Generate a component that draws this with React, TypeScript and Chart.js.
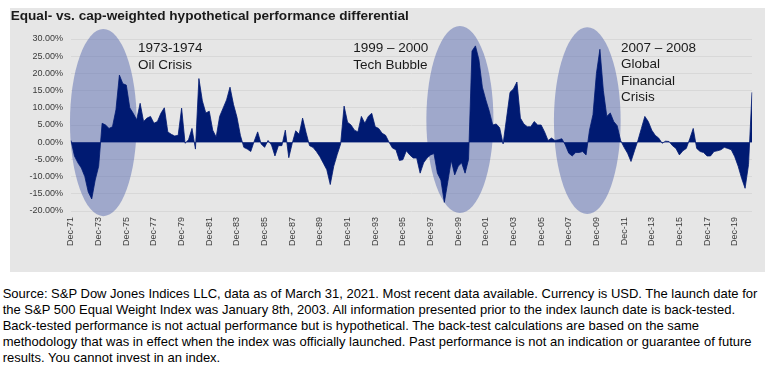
import React, { useEffect, useRef } from 'react';
import { Chart, registerables } from 'chart.js';

Chart.register(...registerables);

const FONT = '"Liberation Sans", Arial, Helvetica, sans-serif';

// Quarterly observations, first point Dec-71, last point Mar-21
const START_YEAR = 1971;
const QUARTER_MONTHS = ['Dec', 'Mar', 'Jun', 'Sep'];

// Equal- minus cap-weighted differential (%)
const diffDec71toSep81 = [
  0.5, -4, -6, -7.5, -10, -14.5, -16.5, -11, -7, 5.5,
  5, 4, 4.5, 9.4, 19.5, 17, 16.6, 10, 8.4, 6.5,
  11.3, 6, 7, 7.5, 5.5, 6, 8.4, 10, 3, 2.3,
  1.8, 2, 9.9, -0.3, 0.7, 4, -2, 18.5, 12, 8.5,
];
const diffDec81toSep91 = [
  9, 3.5, 1.5, 7.5, 9.9, 12.3, 16, 11, 7.3, 2,
  -1.5, -2, -2.7, 0.3, 3, -0.5, -1.5, 0.5, -0.8, -4,
  -1, -1, 3.5, -4.5, -0.3, 3.3, 2.3, 7, 2.8, -1,
  -1.5, -2.7, -4.2, -6.1, -8, -12.3, -7, -3.6, -0.5, 10.5,
];
const diffDec91toSep01 = [
  5.8, 5, 3.5, 3, 7.5, 5.5, 7.5, 8.4, 4.5, 4,
  2.6, 2, 0, -1.7, -2.2, -5.3, -5.1, -2.5, -3.7, -4.6,
  -4.6, -9, -6, -4.6, -3.7, -3.3, -9, -11, -17.5, -11.5,
  -5.3, -9.5, -7, -6, -9, -5, 26.5, 28, 24, 16,
];
const diffDec01toSep11 = [
  12.3, 9, 5, 5.3, 4.2, -0.5, 7, 14.5, 15.5, 17.5,
  7, 5.3, 4.5, 4.5, 6, 5, 5, 3, 0.5, 1.2,
  0.5, 0.7, 1, -0.8, -3.2, -4, -3, -3, -2.7, -3.7,
  3.5, 8, 20, 27, 15, 7.5, 8.5, 6, 4.8, 0.5,
];
const diffDec11toMar21 = [
  -1.5, -3.2, -5.6, -2.5, 0.5, 4, 7.5, 6, 3.5, 2,
  1.2, -0.3, 0.3, 0.2, -1, -1.8, -3.7, -2.5, -1.8, 1,
  4, -1.8, -2.7, -3, -4, -4, -2.7, -2.5, -2.2, -1.5,
  -1.8, -2.2, -4.2, -7, -10.5, -13.4, -6.5, 14.5,
];

const differential = [
  ...diffDec71toSep81,
  ...diffDec81toSep91,
  ...diffDec91toSep01,
  ...diffDec01toSep11,
  ...diffDec11toMar21,
];

const quarterLabels = differential.map((_, i) => {
  const mon = QUARTER_MONTHS[i % 4];
  const year = START_YEAR + Math.floor((11 + 3 * i) / 12);
  return `${mon}-${String(year % 100).padStart(2, '0')}`;
});

const X_TICK_LABELS = [
  'Dec-71', 'Dec-73', 'Dec-75', 'Dec-77', 'Dec-79', 'Dec-81', 'Dec-83', 'Dec-85',
  'Dec-87', 'Dec-89', 'Dec-91', 'Dec-93', 'Dec-95', 'Dec-97', 'Dec-99', 'Dec-01',
  'Dec-03', 'Dec-05', 'Dec-07', 'Dec-09', 'Dec-11', 'Dec-13', 'Dec-15', 'Dec-17', 'Dec-19',
];

const Y_MIN = -20;
const Y_MAX = 30;
const Y_STEP = 5;

// Highlight ellipses in data units: quarter index span and % span
const crisisFrom = [-0.3, 102.8, 139.7];
const crisisTo = [19.0, 122.2, 159.0];
const crisisTop = [32.9, 33.8, 33.4];
const crisisBottom = [-21.5, -20.6, -20.9];

const crisisTitles = ['1973-1974', '1999 \u2013 2000', '2007 \u2013 2008'];
const crisisNames = [['Oil Crisis'], ['Tech Bubble'], ['Global', 'Financial', 'Crisis']];

const SOURCE_LINES = [
  'Source: S&P Dow Jones Indices LLC, data as of March 31, 2021. Most recent data available. Currency is USD. The launch date for',
  'the S&P 500 Equal Weight Index was January 8th, 2003. All information presented prior to the index launch date is back-tested.',
  'Back-tested performance is not actual performance but is hypothetical. The back-test calculations are based on the same',
  'methodology that was in effect when the index was officially launched. Past performance is not an indication or guarantee of future',
  'results. You cannot invest in an index.',
];

const ellipsePlugin = {
  id: 'crisisEllipses',
  beforeDatasetsDraw(chart: any) {
    const { ctx, scales } = chart;
    const xs = scales.x;
    const ys = scales.y;
    ctx.save();
    ctx.fillStyle = 'rgba(88,106,176,0.5)';
    for (let i = 0; i < crisisFrom.length; i++) {
      const x1 = xs.getPixelForValue(crisisFrom[i]);
      const x2 = xs.getPixelForValue(crisisTo[i]);
      const y1 = ys.getPixelForValue(crisisTop[i]);
      const y2 = ys.getPixelForValue(crisisBottom[i]);
      ctx.beginPath();
      ctx.ellipse((x1 + x2) / 2, (y1 + y2) / 2, Math.abs(x2 - x1) / 2, Math.abs(y2 - y1) / 2, 0, 0, Math.PI * 2);
      ctx.fill();
    }
    ctx.restore();
  },
};

const annoPos = [
  { left: 138, top: 40.3 },
  { left: 353.3, top: 40.3 },
  { left: 621, top: 39.7 },
];

export default function App() {
  const canvasRef = useRef<HTMLCanvasElement | null>(null);

  useEffect(() => {
    const canvas = canvasRef.current;
    if (!canvas) return;
    const chart = new Chart(canvas, {
      type: 'line',
      data: {
        labels: quarterLabels,
        datasets: [
          {
            data: differential,
            fill: 'origin',
            backgroundColor: '#001A72',
            borderColor: '#001A72',
            borderWidth: 0.8,
            pointRadius: 0,
            pointHoverRadius: 0,
            tension: 0,
          },
        ],
      },
      options: {
        animation: false,
        responsive: false,
        devicePixelRatio: 1,
        events: [],
        layout: { padding: { top: 31, right: 13, left: 0, bottom: 0 } },
        plugins: {
          legend: { display: false },
          tooltip: { enabled: false },
          title: { display: false },
        },
        scales: {
          x: {
            type: 'category',
            offset: false,
            grid: { display: false, drawTicks: false },
            border: { display: false },
            afterFit: (s: any) => { s.height = 61; },
            ticks: {
              autoSkip: false,
              minRotation: 90,
              maxRotation: 90,
              padding: 6,
              color: '#3a3a3a',
              font: { family: FONT, size: 9 },
              callback: (_v: any, index: number) => {
                const lab = quarterLabels[index];
                return X_TICK_LABELS.includes(lab) ? lab : null;
              },
            },
          },
          y: {
            min: Y_MIN,
            max: Y_MAX,
            afterFit: (s: any) => { s.width = 61; },
            grid: {
              drawTicks: false,
              lineWidth: 1,
              color: (c: any) => (c.tick && c.tick.value === 0 ? '#B7BCD2' : '#D8D8D8'),
            },
            border: { display: false },
            ticks: {
              stepSize: Y_STEP,
              padding: 8,
              color: '#3a3a3a',
              font: { family: FONT, size: 9 },
              callback: (v: any) => `${Number(v).toFixed(2)}%`,
            },
          },
        },
      },
      plugins: [ellipsePlugin],
    });
    return () => chart.destroy();
  }, []);

  return (
    <div style={{ position: 'absolute', left: 0, top: 0, width: 772, height: 373, background: '#fff', fontFamily: FONT, overflow: 'hidden' }}>
      <div style={{ position: 'absolute', left: 10, top: 8, width: 755, height: 264, background: '#E6E6E6' }}>
        <canvas ref={canvasRef} width={755} height={264} style={{ display: 'block', width: 755, height: 264 }} />
      </div>
      <div style={{ position: 'absolute', left: 10.7, top: 8.3, fontSize: 13.6, lineHeight: '16px', fontWeight: 'bold', color: '#1a1a1a', whiteSpace: 'nowrap' }}>
        Equal- vs. cap-weighted hypothetical performance differential
      </div>
      {crisisTitles.map((t, i) => (
        <div key={t} style={{ position: 'absolute', left: annoPos[i].left, top: annoPos[i].top, fontSize: 13.5, lineHeight: '16.5px', color: '#1a1a1a', whiteSpace: 'nowrap' }}>
          <div>{t}</div>
          {crisisNames[i].map((n) => (<div key={n}>{n}</div>))}
        </div>
      ))}
      <div style={{ position: 'absolute', left: 2.7, top: 286, fontSize: 13, lineHeight: '16px', color: '#000', whiteSpace: 'nowrap' }}>
        {SOURCE_LINES.map((l) => (<div key={l}>{l}</div>))}
      </div>
    </div>
  );
}
